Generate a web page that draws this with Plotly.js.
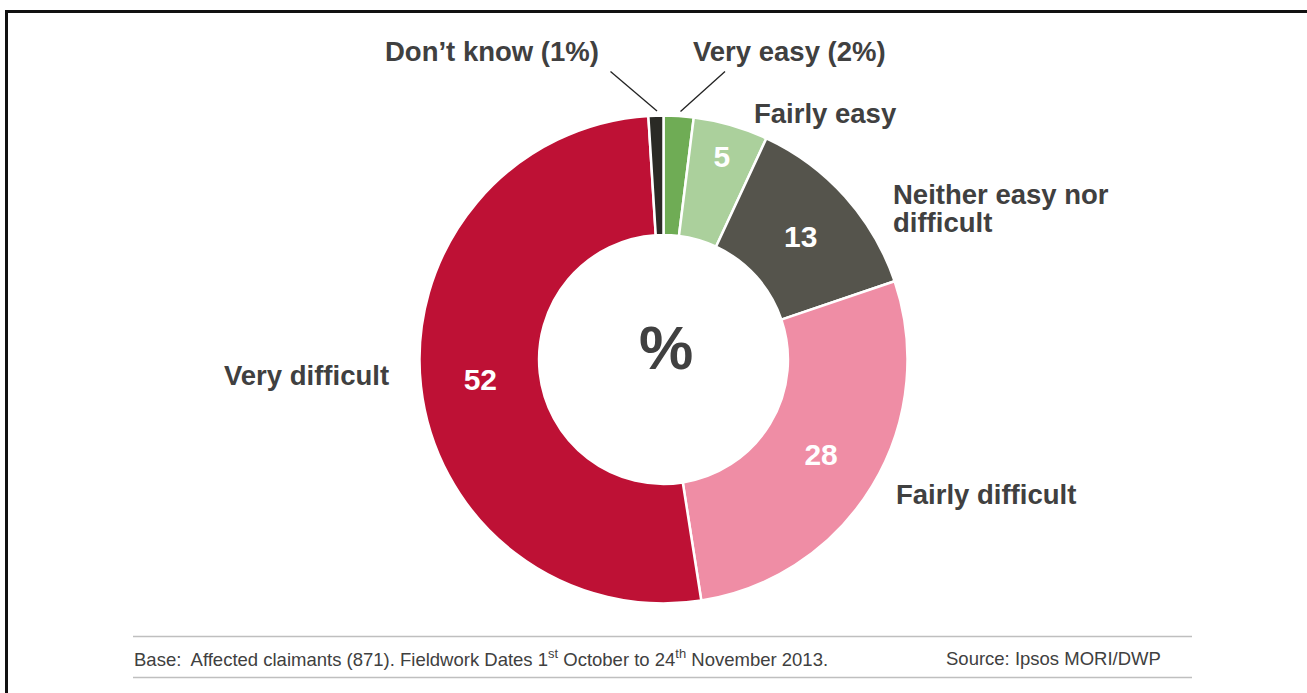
<!DOCTYPE html>
<html>
<head>
<meta charset="utf-8">
<script src="https://cdn.plot.ly/plotly-3.0.1.min.js"></script>
<style>html,body{margin:0;padding:0;background:#fff;}#chart{width:1307px;height:693px;}</style>
</head>
<body>
<div id="chart"></div>
<script>
const categories = ["Very easy", "Fairly easy", "Neither easy nor difficult", "Fairly difficult", "Very difficult", "Don\u2019t know"];
const values = [2, 5, 13, 28, 52, 1];
const insideLabels = ["", "5", "13", "28", "52", ""];
const outsideLabels = ["Very easy (2%)", "Fairly easy", "Neither easy nor", "difficult", "Fairly difficult", "Very difficult", "Don\u2019t know (1%)"];
const colors = ["#6FAC55", "#ABD09C", "#55544C", "#EF8DA5", "#BE1135", "#2A2A25"];

const W = 1307, H = 693;
const px = x => x / W;
const py = y => 1 - y / H;
const cx = 663.5, cy = 359.5, R = 244;

const trace = {
  type: "pie",
  labels: categories,
  values: values,
  sort: false,
  direction: "clockwise",
  rotation: 0,
  hole: 0.51,
  marker: {colors: colors, line: {color: "#ffffff", width: 2.5}},
  text: insideLabels,
  texttemplate: "%{text}",
  textinfo: "text",
  textposition: "inside",
  insidetextorientation: "horizontal",
  insidetextfont: {family: "Liberation Sans, Arial, sans-serif", size: 30, color: "#ffffff", weight: "bold"},
  domain: {x: [px(cx - R), px(cx + R)], y: [py(cy + R), py(cy - R)]},
  showlegend: false,
  hoverinfo: "label+value"
};

const labelFont = {family: "Liberation Sans, Arial, sans-serif", size: 27.5, color: "#404040", weight: "bold"};
const footFont = {family: "Liberation Sans, Arial, sans-serif", size: 18.5, color: "#404040"};

const annotations = [
  {text: outsideLabels[6], x: px(601), y: py(52), xanchor: "right", yanchor: "middle", font: labelFont},
  {text: outsideLabels[0], x: px(691), y: py(52), xanchor: "left", yanchor: "middle", font: labelFont},
  {text: outsideLabels[1], x: px(752), y: py(113), xanchor: "left", yanchor: "middle", font: labelFont},
  {text: outsideLabels[2], x: px(891), y: py(194), xanchor: "left", yanchor: "middle", font: labelFont},
  {text: outsideLabels[3], x: px(891), y: py(222), xanchor: "left", yanchor: "middle", font: labelFont},
  {text: outsideLabels[4], x: px(894), y: py(494), xanchor: "left", yanchor: "middle", font: labelFont},
  {text: outsideLabels[5], x: px(391), y: py(375), xanchor: "right", yanchor: "middle", font: labelFont},
  {text: "%", x: px(666), y: py(348), xanchor: "center", yanchor: "middle", font: {family: "Liberation Sans, Arial, sans-serif", size: 61, color: "#404040", weight: "bold"}},
  {text: "Base:  Affected claimants (871). Fieldwork Dates 1<sup>st</sup> October to 24<sup>th</sup> November 2013.", x: px(132), y: py(658), xanchor: "left", yanchor: "middle", font: footFont},
  {text: "Source: Ipsos MORI/DWP", x: px(1163), y: py(658), xanchor: "right", yanchor: "middle", font: footFont}
].map(a => Object.assign({xref: "paper", yref: "paper", showarrow: false}, a));

const shapes = [
  {type: "line", x0: px(610.5), y0: py(71.5), x1: px(657), y1: py(111), line: {color: "#222222", width: 1.3}},
  {type: "line", x0: px(725), y0: py(71.5), x1: px(680.5), y1: py(111.5), line: {color: "#222222", width: 1.3}},
  {type: "line", x0: px(133), y0: py(636.5), x1: px(1192), y1: py(636.5), line: {color: "#BFBFBF", width: 1.3}},
  {type: "line", x0: px(133), y0: py(677.5), x1: px(1192), y1: py(677.5), line: {color: "#BFBFBF", width: 1.3}},
  {type: "line", x0: px(5), y0: py(11.5), x1: px(1307), y1: py(11.5), line: {color: "#111111", width: 3}},
  {type: "line", x0: px(6.5), y0: py(10), x1: px(6.5), y1: py(693), line: {color: "#111111", width: 3}}
].map(s => Object.assign({xref: "paper", yref: "paper", layer: "above"}, s));

const layout = {
  width: W, height: H,
  margin: {l: 0, r: 0, t: 0, b: 0, pad: 0},
  paper_bgcolor: "#ffffff",
  plot_bgcolor: "#ffffff",
  showlegend: false,
  annotations: annotations,
  shapes: shapes
};

Plotly.newPlot("chart", [trace], layout, {displayModeBar: false, staticPlot: true});
</script>
</body>
</html>
